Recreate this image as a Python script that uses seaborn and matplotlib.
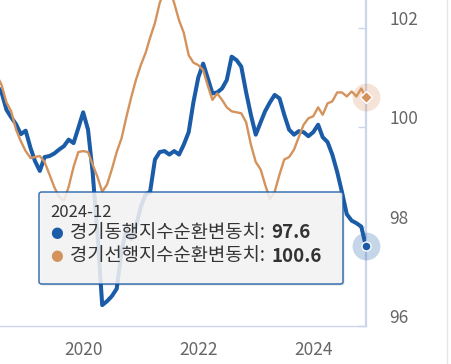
import numpy as np
import pandas as pd
import matplotlib
matplotlib.use("Agg")
import matplotlib.pyplot as plt
import matplotlib.dates as mdates
import matplotlib.transforms as mtransforms
from matplotlib.patches import FancyBboxPatch
import seaborn as sns

# monthly values 2018-07 .. 2024-12
months = pd.date_range("2018-07-01", "2024-12-01", freq="MS")
coincident = [100.85, 100.7, 100.35, 100.2, 100.06, 99.86, 99.93, 99.58, 99.32, 99.12,
              99.4, 99.42, 99.47, 99.55, 99.62, 99.75, 99.68, 99.98, 100.3, 99.95,
              99.1, 97.85, 96.42, 96.5, 96.6, 96.75, 97.5, 97.95, 97.75, 98.0,
              98.4, 98.65, 98.7, 99.35, 99.5, 99.52, 99.45, 99.52, 99.45, 99.65,
              99.9, 100.5, 101.0, 101.28, 101.0, 100.68, 100.7, 100.78, 100.95, 101.42,
              101.35, 101.22, 100.7, 100.25, 99.85, 100.1, 100.32, 100.5, 100.65, 100.58,
              100.25, 99.95, 99.85, 99.92, 99.9, 99.82, 99.9, 100.05, 99.8, 99.7,
              99.45, 99.1, 98.7, 98.25, 98.12, 98.07, 98.0, 97.6]
leading = [101.05, 100.85, 100.5, 100.32, 99.95, 99.72, 99.52, 99.38, 99.4, 99.42,
           99.3, 99.05, 98.8, 98.6, 98.52, 98.8, 99.2, 99.5, 99.52, 99.5,
           99.25, 99.0, 98.7, 98.85, 99.15, 99.5, 99.78, 100.2, 100.6, 100.95,
           101.25, 101.5, 101.8, 102.1, 102.5, 102.75, 102.8, 102.5, 102.15, 101.9,
           101.45, 101.3, 101.25, 101.15, 100.85, 100.55, 100.68, 100.55, 100.4, 100.32,
           100.3, 100.28, 100.1, 99.65, 99.3, 99.15, 98.85, 98.55, 98.7, 99.05,
           99.35, 99.4, 99.55, 99.8, 100.05, 100.18, 100.22, 100.4, 100.25, 100.48,
           100.52, 100.7, 100.7, 100.62, 100.72, 100.62, 100.78, 100.6]
names = ["경기동행지수순환변동치", "경기선행지수순환변동치"]
colors = ["#1b5ca8", "#d4925c"]
yticks = [96, 98, 100, 102]
xtick_years = [2020, 2022, 2024]
tip_date = "2024-12"

n = len(months)
df = pd.DataFrame({
    "month": list(months) * 2,
    "value": coincident + leading,
    "series": [names[0]] * n + [names[1]] * n,
})

sns.set_style("white")
plt.rcParams["font.family"] = ["Noto Sans CJK KR", "DejaVu Sans"]

W, H = 451, 364
fig = plt.figure(figsize=(W / 100, H / 100), dpi=100)
ax = fig.add_axes([0, 38 / H, 366 / W, 326 / H])

sns.lineplot(data=df, x="month", y="value", hue="series", palette=colors,
             size="series", sizes={names[0]: 2.9, names[1]: 1.7},
             legend=False, ax=ax)
for i, ln in enumerate(ax.lines):
    ln.set_solid_capstyle("round")
    ln.set_solid_joinstyle("round")
    ln.set_zorder(3 + i)

ax.set_xlim(mdates.date2num(pd.Timestamp("2018-07-22")), mdates.date2num(months[-1]))
ax.set_ylim(96, 102.56)
ax.set_xlabel("")
ax.set_ylabel("")

axis_col = "#ccd6eb"
for s in ["left", "top"]:
    ax.spines[s].set_visible(False)
ax.spines["right"].set_color(axis_col)
ax.spines["right"].set_linewidth(1.6)
ax.spines["bottom"].set_color(axis_col)
ax.spines["bottom"].set_linewidth(1.0)

ax.set_xticks([mdates.date2num(pd.Timestamp(f"{y}-01-01")) for y in xtick_years])
ax.set_xticklabels([str(y) for y in xtick_years])
ax.yaxis.tick_right()
ax.set_yticks(yticks)
ax.set_yticklabels([str(v) for v in yticks])
ax.tick_params(axis="x", direction="in", length=5.5, width=1, color=axis_col,
               labelsize=12.5, labelcolor="#666666", pad=11)
ax.tick_params(axis="y", direction="in", length=5.5, width=1, color=axis_col,
               labelsize=12.5, labelcolor="#666666", pad=17)
shift = mtransforms.ScaledTranslation(0, 10 / 100, fig.dpi_scale_trans)
for lab in ax.get_yticklabels():
    lab.set_transform(lab.get_transform() + shift)

# hovered points
last = months[-1]
ax.plot([last], [coincident[-1]], "o", ms=20, color=colors[0], alpha=0.25,
        mec="none", clip_on=False, zorder=6)
ax.plot([last], [coincident[-1]], "o", ms=6.5, color=colors[0], mec="white",
        mew=1, clip_on=False, zorder=7)
ax.plot([last], [leading[-1]], "o", ms=20, color=colors[1], alpha=0.25,
        mec="none", clip_on=False, zorder=6)
ax.plot([last], [leading[-1]], "D", ms=6, color=colors[1], mec="white",
        mew=1, clip_on=False, zorder=7)

# right edge line
fig.add_artist(plt.Line2D([447 / W, 447 / W], [0, 1], color="#e6e6e6", lw=1))


def fx(px):
    return px / W


def fy(py):
    return 1 - py / H


# tooltip
bx0, by0, bx1, by1 = 39, 192, 343, 284
shadow = FancyBboxPatch((fx(bx0 + 1.5), fy(by1 + 1.5)), fx(bx1 - bx0), (by1 - by0) / H,
                        boxstyle="round,pad=0,rounding_size=0.006",
                        transform=fig.transFigure, facecolor="#000000", alpha=0.12,
                        edgecolor="none", zorder=19)
box = FancyBboxPatch((fx(bx0), fy(by1)), fx(bx1 - bx0), (by1 - by0) / H,
                     boxstyle="round,pad=0,rounding_size=0.006",
                     transform=fig.transFigure, facecolor="#f7f7f7", alpha=0.86,
                     edgecolor=colors[0], linewidth=1.1, zorder=20)
fig.add_artist(shadow)
fig.add_artist(box)

fig.text(fx(50), fy(212), tip_date, fontsize=12, color="#333333",
         va="center", ha="left", zorder=21)
vals = [coincident[-1], leading[-1]]
rows_y = [233, 256]
fig.canvas.draw()
renderer = fig.canvas.get_renderer()
for name, val, col, yy in zip(names, vals, colors, rows_y):
    fig.text(fx(57), fy(yy), "●", fontsize=10.5, color=col, va="center",
             ha="center", zorder=21, family=["DejaVu Sans"])
    t = fig.text(fx(70), fy(yy), name + ": ", fontsize=13.5, color="#333333",
                 va="center", ha="left", zorder=21)
    ext = t.get_window_extent(renderer)
    fig.text(ext.x1 / W + fx(2), fy(yy), f"{val:.1f}", fontsize=13.5,
             fontweight="bold", color="#333333", va="center", ha="left", zorder=21)

fig.savefig("out.png", dpi=100)
